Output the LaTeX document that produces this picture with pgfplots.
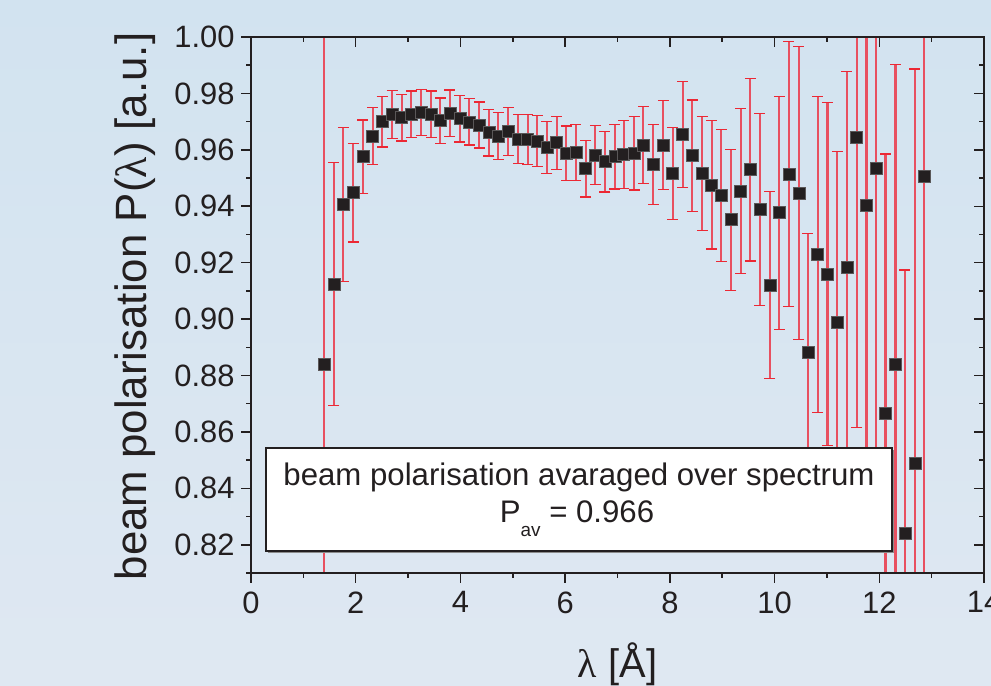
\documentclass[border=0pt]{standalone}
\usepackage{pgfplots}
\pgfplotsset{compat=1.18}
\usepackage{pgfplotstable}
\usepackage{fontspec}
\setmainfont{Liberation Sans}
\newfontfamily\serifgreek{Liberation Serif}
\definecolor{bgtop}{RGB}{210,227,240}
\definecolor{bgbot}{RGB}{223,232,242}
\definecolor{ink}{RGB}{35,31,32}
\definecolor{errline}{RGB}{232,80,96}
\definecolor{errcap}{RGB}{236,40,52}

\pgfplotstableread{
x y e
1.400 0.8838 0.1300
1.585 0.9124 0.0430
1.763 0.9407 0.0273
1.954 0.9448 0.0175
2.139 0.9576 0.0130
2.324 0.9649 0.0102
2.502 0.9700 0.0090
2.693 0.9726 0.0085
2.878 0.9714 0.0083
3.062 0.9726 0.0082
3.247 0.9733 0.0082
3.438 0.9726 0.0082
3.616 0.9703 0.0081
3.800 0.9730 0.0082
3.990 0.9710 0.0082
4.170 0.9699 0.0082
4.360 0.9688 0.0082
4.545 0.9661 0.0083
4.723 0.9649 0.0084
4.914 0.9664 0.0085
5.105 0.9639 0.0087
5.284 0.9637 0.0088
5.468 0.9631 0.0090
5.653 0.9608 0.0093
5.838 0.9625 0.0094
6.022 0.9588 0.0096
6.207 0.9591 0.0099
6.392 0.9533 0.0100
6.576 0.9582 0.0105
6.761 0.9558 0.0108
6.952 0.9576 0.0115
7.120 0.9584 0.0120
7.315 0.9588 0.0130
7.493 0.9617 0.0137
7.684 0.9548 0.0141
7.875 0.9617 0.0158
8.054 0.9517 0.0163
8.245 0.9654 0.0187
8.429 0.9579 0.0198
8.614 0.9516 0.0203
8.798 0.9476 0.0228
8.982 0.9438 0.0235
9.167 0.9352 0.0250
9.352 0.9454 0.0293
9.537 0.9530 0.0324
9.721 0.9388 0.0340
9.912 0.9121 0.0331
10.090 0.9377 0.0413
10.275 0.9515 0.0470
10.466 0.9447 0.0520
10.638 0.8881 0.0422
10.823 0.9228 0.0560
11.010 0.9160 0.0607
11.197 0.8989 0.0606
11.383 0.9183 0.0694
11.570 0.9646 0.1030
11.755 0.9404 0.1050
11.943 0.9533 0.1100
12.120 0.8665 0.0920
12.310 0.8838 0.1065
12.490 0.8239 0.0935
12.680 0.8489 0.1398
12.860 0.9507 0.1500
}\datatable

\begin{document}
\begin{tikzpicture}[x=1bp,y=1bp]
\useasboundingbox (0,0) rectangle (991,686);
\shade[top color=bgtop,bottom color=bgbot] (0,0) rectangle (991,686);
\begin{axis}[
  at={(251bp,113bp)}, anchor=south west,
  width=733bp, height=536bp, scale only axis,
  xmin=0, xmax=14, ymin=0.81, ymax=1.00,
  xtick={0,2,4,6,8,10,12,14},
  minor xtick={1,3,5,7,9,11,13},
  ytick={0.82,0.84,0.86,0.88,0.90,0.92,0.94,0.96,0.98,1.00},
  minor ytick={0.81,0.83,0.85,0.87,0.89,0.91,0.93,0.95,0.97,0.99},
  tick align=outside,
  xtick pos=left, ytick pos=left,
  major tick length=10bp, minor tick length=5bp,
  every tick/.style={ink, line width=1.5bp},
  axis line style={ink, line width=2bp},
  tick label style={font=\fontsize{31}{31}\selectfont, text=ink},
  /pgf/number format/assume math mode=true,
  yticklabel style={xshift=-3bp, /pgf/number format/.cd, fixed, fixed zerofill, precision=2},
  xticklabel style={yshift=-5bp, /pgf/number format/.cd, fixed, precision=0},
]
\addplot[only marks, mark=square*, mark size=6bp,
  mark options={fill=ink, draw=ink!75, line width=0.6bp},
  error bars/.cd, y dir=both, y explicit,
  error bar style={errline, line width=2.2bp},
  error mark options={errcap, rotate=90, mark size=5.5bp, line width=1.3bp}]
  table[x=x, y=y, y error=e] {\datatable};
\end{axis}
\begin{axis}[
  at={(251bp,113bp)}, anchor=south west,
  width=733bp, height=536bp, scale only axis,
  xmin=0, xmax=14, ymin=0.81, ymax=1.00,
  xtick={0,2,4,6,8,10,12,14},
  minor xtick={1,3,5,7,9,11,13},
  ytick={0.82,0.84,0.86,0.88,0.90,0.92,0.94,0.96,0.98,1.00},
  minor ytick={0.81,0.83,0.85,0.87,0.89,0.91,0.93,0.95,0.97,0.99},
  tick align=inside,
  xtick pos=right, ytick pos=right,
  xticklabels={}, yticklabels={},
  major tick length=10bp, minor tick length=5bp,
  every tick/.style={ink, line width=1.5bp},
  axis line style={ink, line width=2bp},
]
\end{axis}
% annotation box
\fill[black!45] (268,133) rectangle (894,236);
\draw[ink, line width=1.2bp, fill=white] (266,135) rectangle (892,238);
\node[anchor=base, inner sep=0, text=ink, font=\fontsize{31.3}{31.3}\selectfont] at (579,200) {beam polarisation avaraged over spectrum};
\node[anchor=base, inner sep=0, text=ink, font=\fontsize{31.3}{31.3}\selectfont] at (577,163) {P\raisebox{-14bp}{\fontsize{19}{19}\selectfont av} = 0.966};
% axis titles
\node[rotate=90, anchor=base, inner sep=0, text=ink, font=\fontsize{44}{44}\selectfont] at (146,379.5) {beam polarisation P({\serifgreek λ}) [a.u.]};
\node[anchor=base, inner sep=0, text=ink, font=\fontsize{40}{40}\selectfont] at (617.5,8) {{\serifgreek λ} [Å]};
\end{tikzpicture}
\end{document}
